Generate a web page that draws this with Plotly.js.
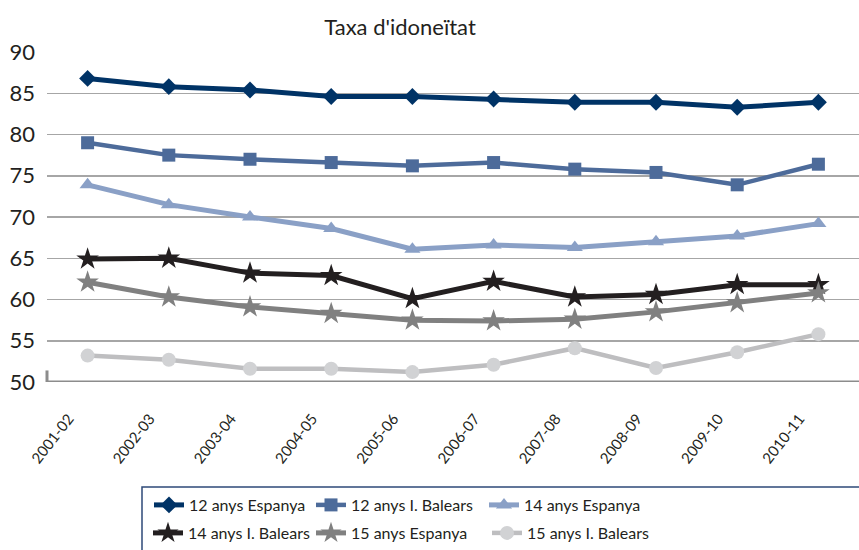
<!DOCTYPE html>
<html>
<head>
<meta charset="utf-8">
<script src="https://cdn.plot.ly/plotly-3.0.1.min.js"></script>
<style>html,body{margin:0;padding:0;background:#fff;}#chart{width:859px;height:550px;}</style>
</head>
<body>
<div id="chart"></div>
<script>
const categories = ['2001-02','2002-03','2003-04','2004-05','2005-06','2006-07','2007-08','2008-09','2009-10','2010-11'];
const esp12 = [86.8, 85.8, 85.4, 84.6, 84.6, 84.3, 83.9, 83.9, 83.3, 83.9];
const bal12 = [79.0, 77.5, 77.0, 76.6, 76.2, 76.6, 75.8, 75.4, 73.9, 76.4];
const esp14 = [73.9, 71.5, 70.0, 68.6, 66.1, 66.6, 66.3, 67.0, 67.7, 69.2];
const bal14 = [64.9, 65.0, 63.2, 62.9, 60.1, 62.2, 60.3, 60.6, 61.8, 61.8];
const esp15 = [62.1, 60.3, 59.1, 58.3, 57.5, 57.4, 57.6, 58.5, 59.6, 60.8];
const bal15 = [53.2, 52.7, 51.6, 51.6, 51.2, 52.1, 54.1, 51.7, 53.6, 55.8];
const seriesNames = ['12 anys Espanya','12 anys I. Balears','14 anys Espanya','14 anys I. Balears','15 anys Espanya','15 anys I. Balears'];
const yTicks = [50, 55, 60, 65, 70, 75, 80, 85, 90];

const FONT = 'Lato, "Open Sans", sans-serif';
const TXT = '#231F20';

function tr(y, name, lineColor, markerColor, symbol, size, lw, legend) {
  return {
    x: categories, y: y, name: name, type: 'scatter', mode: 'lines+markers',
    line: {color: lineColor, width: lw},
    marker: {color: markerColor, symbol: symbol, size: size, line: {width: 0}},
    legend: legend, cliponaxis: false
  };
}

const data = [
  tr(esp12, seriesNames[0], '#003366', '#003366', 'diamond', 13, 5, 'legend'),
  tr(bal12, seriesNames[1], '#4D6B9A', '#4D6B9A', 'square', 13, 4.5, 'legend2'),
  tr(esp14, seriesNames[2], '#8AA0C6', '#8AA0C6', 'triangle-up', 14, 5, 'legend3'),
  tr(bal14, seriesNames[3], '#231F20', '#231F20', 'star', 17, 5, 'legend4'),
  tr(esp15, seriesNames[4], '#808080', '#808080', 'star', 17, 5, 'legend5'),
  tr(bal15, seriesNames[5], '#BEBEC0', '#D1D2D4', 'circle', 14, 4.5, 'legend6')
];

const PL = 47, PW = 812, PB = 382, PH = 330;
function leg(px, py) {
  return {
    orientation: 'h', xanchor: 'left', yanchor: 'middle',
    x: (px - PL) / PW, y: -(py - PB) / PH,
    bgcolor: 'rgba(0,0,0,0)', borderwidth: 0,
    font: {family: FONT, size: 16, color: TXT}, itemclick: false
  };
}

const layout = {
  width: 859, height: 550,
  margin: {l: PL, r: 0, t: 52, b: 168},
  paper_bgcolor: '#ffffff', plot_bgcolor: '#ffffff',
  font: {family: FONT, color: TXT},
  showlegend: true,
  title: {text: "Taxa d'idoneïtat", font: {family: FONT, size: 22, color: TXT},
          x: 400/859, xanchor: 'center', xref: 'container', y: 1 - 27/550, yanchor: 'middle'},
  xaxis: {
    type: 'category', range: [-0.5, 9.5], showgrid: false, zeroline: false,
    showline: false, ticks: '', tickangle: -52,
    tickfont: {family: FONT, size: 15, color: TXT},
    ticklabelshift: -19, ticklabelstandoff: 24, fixedrange: true
  },
  yaxis: {
    range: [50, 90], tickvals: yTicks, ticktext: yTicks.map(String),
    showgrid: true, gridcolor: '#A6A6A6', gridwidth: 1.5, zeroline: false,
    showline: false, ticks: '', tickfont: {family: FONT, size: 22, color: TXT},
    ticklabelstandoff: 11, fixedrange: true
  },
  legend: leg(149, 505),
  legend2: leg(311, 505),
  legend3: leg(484, 505),
  legend4: leg(148, 533),
  legend5: leg(311, 533),
  legend6: leg(487, 533),
  shapes: [
    {type: 'line', xref: 'paper', yref: 'y', x0: 0, x1: 1, y0: 50, y1: 50,
     line: {color: '#8C8C8C', width: 3}},
    {type: 'line', xref: 'paper', yref: 'y', x0: 0, x1: 0, y0: 50, y1: 51.4,
     line: {color: '#8C8C8C', width: 3}},
    {type: 'rect', xref: 'paper', yref: 'paper', x0: (142 - PL) / PW, x1: 1.05,
     y0: -(487 - PB) / PH, y1: -0.7, line: {color: '#2E4A78', width: 1.5}, fillcolor: 'rgba(0,0,0,0)'}
  ]
};

Plotly.newPlot('chart', data, layout, {displayModeBar: false, staticPlot: true});
</script>
</body>
</html>
